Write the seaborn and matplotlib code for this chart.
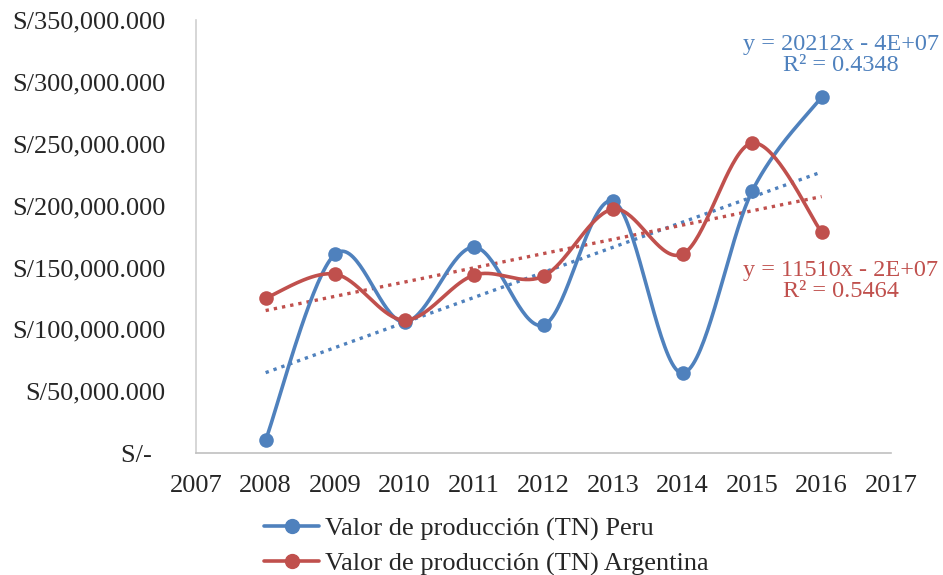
import matplotlib.pyplot as plt
from matplotlib.lines import Line2D
from matplotlib.ticker import FuncFormatter
import seaborn as sns
import pandas as pd
import numpy as np

years = [2008, 2009, 2010, 2011, 2012, 2013, 2014, 2015, 2016]
peru = [10.5e6, 160.9e6, 105.9e6, 166.5e6, 103.5e6, 203.7e6, 64.7e6, 211.8e6, 287.8e6]
argentina = [125.3e6, 144.7e6, 107.5e6, 143.9e6, 143.1e6, 197.2e6, 160.9e6, 250.6e6, 178.6e6]
labels = ["Valor de producción (TN) Peru", "Valor de producción (TN) Argentina"]
eq_texts = [("y = 20212x - 4E+07", "R² = 0.4348"), ("y = 11510x - 2E+07", "R² = 0.5464")]
colors = ["#4F81BD", "#C0504D"]


def smooth(x, y, n=40):
    # excel-like smoothing: cubic bezier with catmull-rom control points
    x = np.asarray(x, float)
    y = np.asarray(y, float)
    pts = np.column_stack([x, y])
    out = []
    for i in range(len(pts) - 1):
        p0 = pts[i - 1] if i > 0 else pts[i]
        p1 = pts[i]
        p2 = pts[i + 1]
        p3 = pts[i + 2] if i + 2 < len(pts) else pts[i + 1]
        c1 = p1 + (p2 - p0) / 6
        c2 = p2 - (p3 - p1) / 6
        t = np.linspace(0, 1, n)[:, None]
        seg = ((1 - t) ** 3) * p1 + 3 * ((1 - t) ** 2) * t * c1 + 3 * (1 - t) * t ** 2 * c2 + t ** 3 * p2
        out.append(seg if i == 0 else seg[1:])
    seg = np.vstack(out)
    return seg[:, 0], seg[:, 1]


def main():
    sns.set_style("white")
    plt.rcParams["font.family"] = ["Liberation Serif", "DejaVu Serif"]
    fig = plt.figure(figsize=(9.43, 5.75), dpi=100)
    ax = fig.add_axes([0.208, 0.212, 0.737, 0.753])

    handles = []
    for vals, label, color in zip([peru, argentina], labels, colors):
        sx, sy = smooth(years, vals)
        curve = pd.DataFrame({"x": sx, "y": sy})
        sns.lineplot(data=curve, x="x", y="y", color=color, linewidth=2.6,
                     sort=False, ax=ax, zorder=3)
        pts = pd.DataFrame({"year": years, "value": vals})
        sns.scatterplot(data=pts, x="year", y="value", color=color, s=110,
                        edgecolor=color, linewidth=0, ax=ax, zorder=4)
        # linear trendline
        k, b = np.polyfit(years, vals, 1)
        tx = np.array([years[0], years[-1]])
        ax.plot(tx, k * tx + b, linestyle=(0, (1, 1.5)), linewidth=2.4,
                color=color, zorder=2)
        handles.append(Line2D([0], [0], color=color, linewidth=2.6,
                              marker="o", markersize=10))

    fig.text(841 / 943, 1 - 55 / 575, eq_texts[0][0] + "\n" + eq_texts[0][1],
             ha="center", va="center", fontsize=17.5, color=colors[0],
             linespacing=1.05, multialignment="center")
    fig.text(841 / 943, 1 - 281 / 575, eq_texts[1][0] + "\n" + eq_texts[1][1],
             ha="center", va="center", fontsize=17.5, color=colors[1],
             linespacing=1.05, multialignment="center")

    ax.set_xlim(2007, 2017)
    ax.set_ylim(0, 350e6)
    ax.set_xticks(range(2007, 2018))
    ax.set_yticks(np.arange(0, 350e6 + 1, 50e6))

    def fmt(v, pos):
        if v == 0:
            return "S/-  "
        return "S/" + f"{v / 1000:,.3f}"
    ax.yaxis.set_major_formatter(FuncFormatter(fmt))
    ax.set_xlabel("")
    ax.set_ylabel("")
    ax.tick_params(axis="both", labelsize=19, length=0)
    ax.tick_params(axis="y", pad=22)
    ax.tick_params(axis="x", pad=16)

    for side in ["top", "right"]:
        ax.spines[side].set_visible(False)
    ax.spines["left"].set_color("#D0D0D0")
    ax.spines["bottom"].set_color("#C0C0C0")
    ax.spines["left"].set_linewidth(1.2)
    ax.spines["bottom"].set_linewidth(1.2)

    fig.legend(handles, labels, loc="upper left", bbox_to_anchor=(0.28, 0.101),
               frameon=False, fontsize=19, handlelength=2.1, handletextpad=0.2,
               labelspacing=0.42, borderaxespad=0, borderpad=0)
    fig.savefig("out.png", dpi=100)


if __name__ == "__main__":
    main()
